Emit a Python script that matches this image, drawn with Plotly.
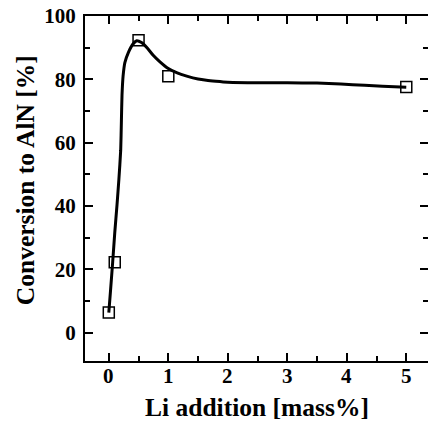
import plotly.graph_objects as go

# Measured data points (Li addition [mass%], Conversion to AlN [%])
li_addition = [0.0, 0.1, 0.5, 1.0, 5.0]
conversion = [6.3, 22.2, 92.3, 81.0, 77.6]

# Guide curve values
curve_x = [0.000, 0.030, 0.065, 0.100, 0.138, 0.170, 0.200, 0.212, 0.222, 0.240,
           0.270, 0.330, 0.400, 0.470, 0.550, 0.650, 0.750, 0.860, 1.000, 1.150,
           1.310, 1.500, 1.640, 1.800, 2.000, 2.500, 3.000, 3.500, 3.900, 4.300,
           4.600, 5.000]
curve_y = [6.3, 13.5, 22.2, 31.5, 40.3, 48.5, 57.6, 67.0, 75.0, 81.0,
           85.3, 88.5, 91.0, 92.2, 91.6, 89.8, 87.5, 85.5, 83.4, 82.0,
           81.0, 80.1, 79.7, 79.4, 79.1, 78.9, 78.9, 78.8, 78.5, 78.1,
           77.8, 77.5]

x_ticks = [0, 1, 2, 3, 4, 5]
x_tick_labels = ["0", "1", "2", "3", "4", "5"]
y_ticks = [0, 20, 40, 60, 80, 100]

FONT = "Liberation Serif"
x_range = [-0.4, 5.365]
y_range = [-9, 100]

tickfont = dict(family=FONT, size=21, color="black", weight="bold")
titlefont = dict(family=FONT, size=25.5, color="black", weight="bold")

fig = go.Figure()
fig.add_trace(go.Scatter(
    x=curve_x, y=curve_y, mode="lines",
    line=dict(color="black", width=3, shape="spline", smoothing=0.5),
    hoverinfo="skip", showlegend=False))
fig.add_trace(go.Scatter(
    x=li_addition, y=conversion, mode="markers",
    marker=dict(symbol="square-open", size=11, color="black",
                line=dict(color="black", width=1.5)),
    showlegend=False))
# invisible trace to anchor right-hand tick axis
fig.add_trace(go.Scatter(
    x=li_addition, y=conversion, mode="markers", yaxis="y2",
    marker=dict(opacity=0), hoverinfo="skip", showlegend=False))

annotations = [
    dict(text=lbl, x=v, xref="x", y=0, yref="paper", yshift=-15,
         xanchor="center", yanchor="middle", showarrow=False, font=tickfont)
    for v, lbl in zip(x_ticks, x_tick_labels)
]
annotations += [
    dict(text="Li addition [mass%]", xref="paper", yref="paper",
         x=0.5, y=-0.136, xanchor="center", yanchor="middle", showarrow=False,
         font=titlefont),
    dict(text="Conversion to AlN [%]", xref="paper", yref="paper",
         x=-0.175, y=0.524, xanchor="center", yanchor="middle", showarrow=False,
         textangle=-90, font=titlefont),
]

fig.update_layout(
    width=428, height=422,
    margin=dict(l=85, r=0, t=16, b=61, autoexpand=False),
    paper_bgcolor="white", plot_bgcolor="white",
    font=dict(family=FONT, color="black"),
    xaxis=dict(range=x_range, tickvals=x_ticks, showticklabels=False,
               showline=True, linecolor="black", linewidth=2, mirror="ticks",
               ticks="inside", ticklen=8, tickwidth=1.5, tickcolor="black",
               minor=dict(dtick=0.5, tick0=0, ticks="inside", ticklen=5,
                          tickwidth=1.5, tickcolor="black", showgrid=False),
               showgrid=False, zeroline=False, automargin=False),
    yaxis=dict(range=y_range, tickvals=y_ticks, ticktext=[str(v) for v in y_ticks],
               showline=True, linecolor="black", linewidth=2, mirror=False,
               ticks="inside", ticklen=8, tickwidth=1.5, tickcolor="black",
               minor=dict(dtick=10, tick0=0, ticks="inside", ticklen=5,
                          tickwidth=1.5, tickcolor="black", showgrid=False),
               showgrid=False, zeroline=False, tickfont=tickfont,
               ticklabelstandoff=3, automargin=False),
    yaxis2=dict(range=y_range, overlaying="y", side="right", anchor="x",
                tickvals=y_ticks, showticklabels=False, showline=False,
                ticks="inside", ticklen=8, tickwidth=1.5, tickcolor="black",
                minor=dict(dtick=10, tick0=0, ticks="inside", ticklen=5,
                           tickwidth=1.5, tickcolor="black", showgrid=False),
                showgrid=False, zeroline=False, automargin=False),
    annotations=annotations,
)

fig.write_html("out.html", config={"displayModeBar": False},
               post_script="document.body.style.margin='0px';document.body.style.padding='0px';")
